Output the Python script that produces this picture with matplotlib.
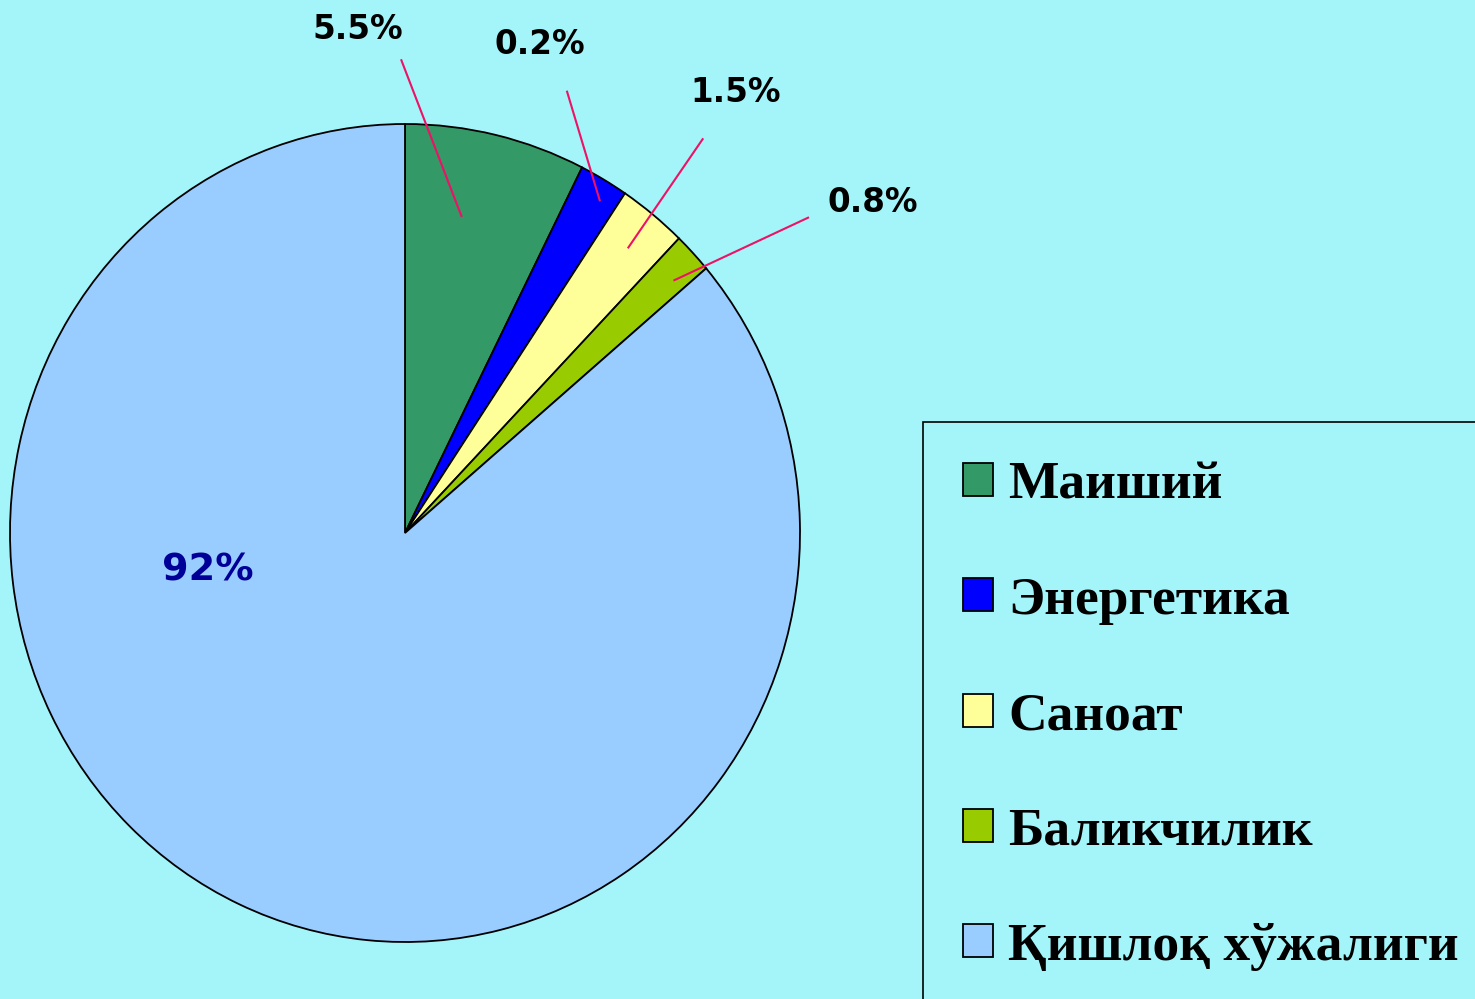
import matplotlib
matplotlib.use("Agg")
import matplotlib.pyplot as plt
from matplotlib.patches import Rectangle
from matplotlib.font_manager import FontProperties

# ---- data ----
categories = ['Маиший', 'Энергетика', 'Саноат', 'Баликчилик', 'Қишлоқ хўжалиги']
drawn_shares = [7.4, 2.0, 2.8, 1.6, 86.2]          # slice sizes as drawn in the picture
value_labels = ['5.5%', '0.2%', '1.5%', '0.8%', '92%']  # printed labels
colors = ['#339966', '#0000FF', '#FFFF99', '#99CC00', '#99CCFF']

# ---- layout (data coords of the unit pie) ----
label_pos = [(-0.119, 1.208), (0.3405, 1.171), (0.838, 1.054), (1.185, 0.785), (-0.499, -0.115)]
leader_lines = [((0.1438, 0.7726), (-0.0101, 1.1582)),
                ((0.4937, 0.811), (0.4096, 1.0814)),
                ((0.564, 0.696), (0.755, 0.965)),
                ((0.6795, 0.617), (1.0228, 0.772)),
                None]

BG = '#A3F5FA'
W, H = 1475, 999
fig = plt.figure(figsize=(W / 100, H / 100), dpi=100, facecolor=BG)

cx, cy, rx, ry = 405, 533, 395, 409
ax = fig.add_axes([(cx - rx) / W, (H - cy - ry) / H, 2 * rx / W, 2 * ry / H])
ax.set_facecolor(BG)

wedges, _ = ax.pie(drawn_shares, colors=colors, startangle=90, counterclock=False,
                   radius=1.0,
                   wedgeprops=dict(edgecolor='black', linewidth=1.3))
for w in wedges:
    w.set_clip_on(False)
ax.set_aspect('auto')
ax.set_xlim(-1, 1)
ax.set_ylim(-1, 1)
ax.axis('off')

line_color = '#EE1166'
for ln in leader_lines:
    if ln is None:
        continue
    (x0, y0), (x1, y1) = ln
    ax.plot([x0, x1], [y0, y1], color=line_color, lw=1.5, clip_on=False, solid_capstyle='butt')

for i, (txt, (x, y)) in enumerate(zip(value_labels, label_pos)):
    if i == len(value_labels) - 1:
        ax.text(x, y, txt, ha='center', va='baseline', fontsize=27.5, fontweight='bold',
                color='#000099', family='DejaVu Sans')
    else:
        ax.text(x, y, txt, ha='center', va='baseline', fontsize=23.5, fontweight='bold',
                color='black', family='DejaVu Sans')

# legend
leg_font = FontProperties(family=['Liberation Serif', 'DejaVu Serif'], weight='bold', size=38.5)
leg = ax.legend(wedges, categories, loc='center left',
                bbox_to_anchor=(962.5 / W, 1 - 716 / H), bbox_transform=fig.transFigure,
                frameon=False, borderpad=0, borderaxespad=0,
                handlelength=0.57, handleheight=0.57, handletextpad=0.29,
                labelspacing=1.26, prop=leg_font)
for t in leg.get_texts():
    t.set_color('black')

frame = Rectangle((923 / W, -0.05), 1.0, (H - 422) / H + 0.05, transform=fig.transFigure,
                  fill=False, edgecolor='black', linewidth=1.2, clip_on=False)
fig.add_artist(frame)

fig.savefig('out.png', dpi=100, facecolor=BG)
